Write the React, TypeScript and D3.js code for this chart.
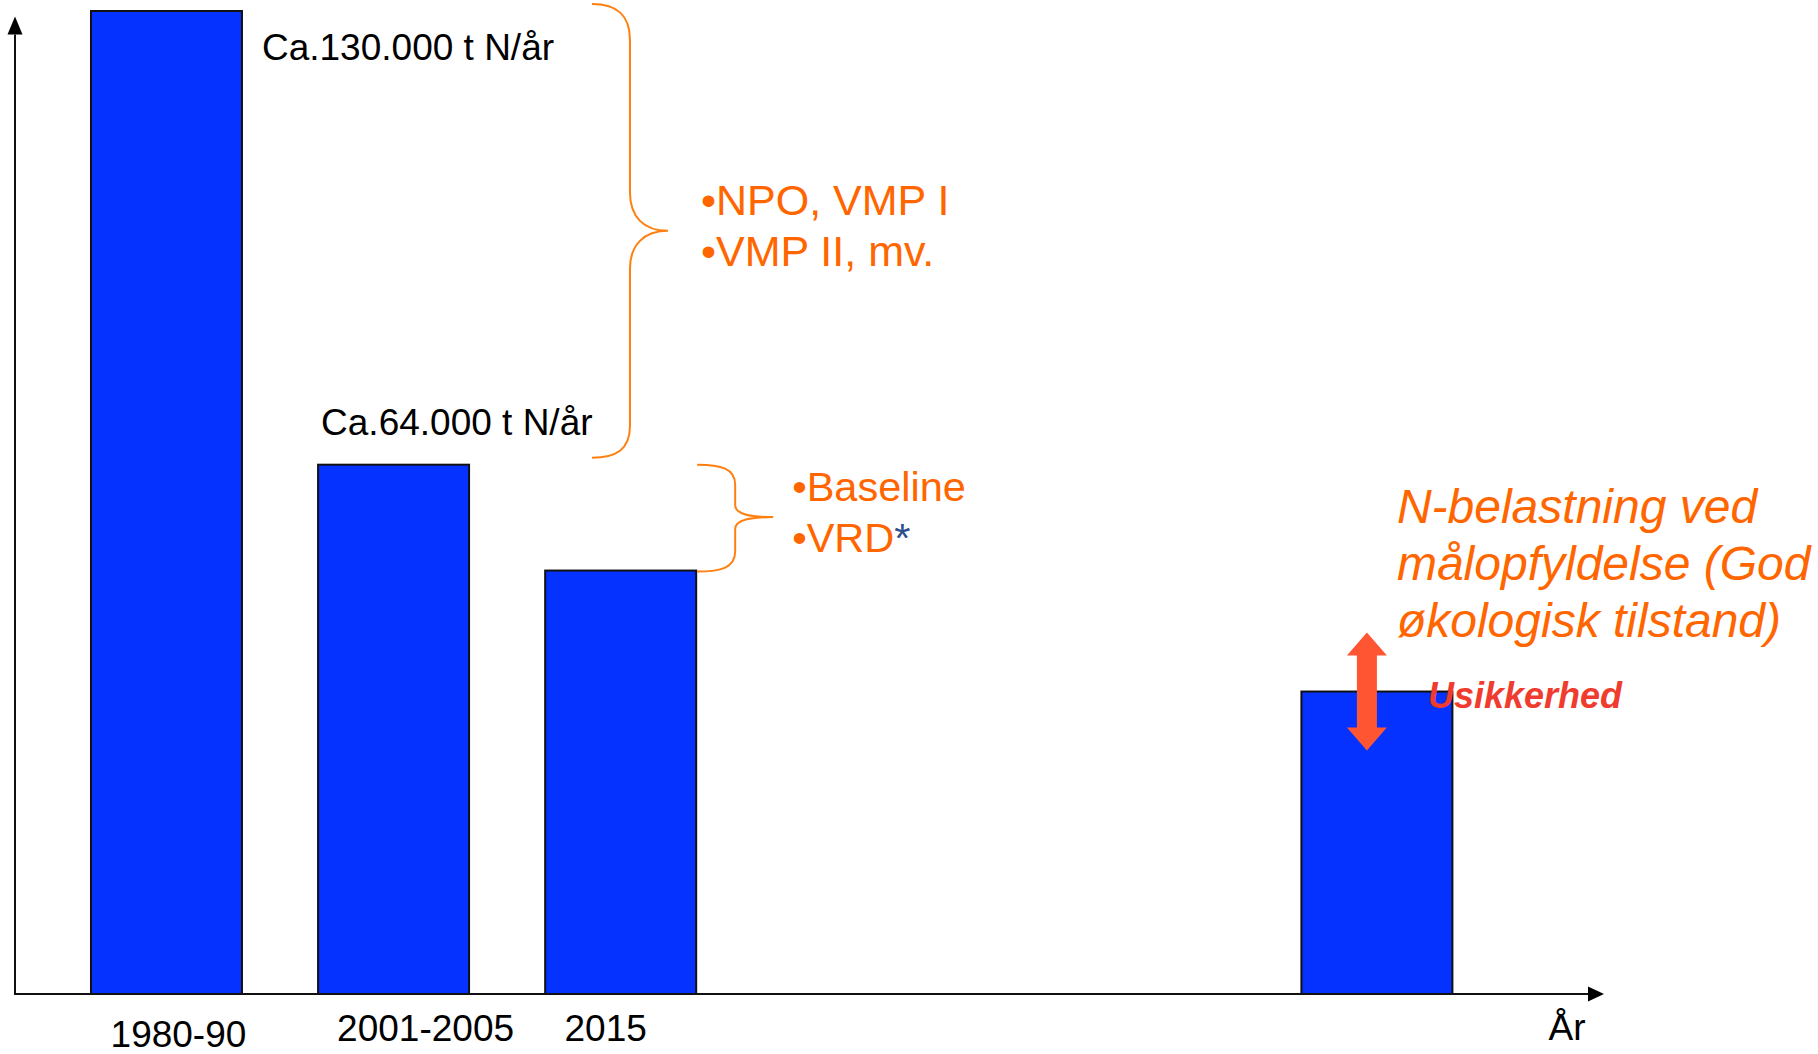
import React from 'react';
import * as d3 from 'd3';

// data (relative N-load, bar 1 = 130 thousand t N/år)
const categories = ['1980-90', '2001-2005', '2015', ''];
const slots = [0, 1, 2, 5.33]; // bar position along the year axis (not evenly spaced)
const values = [130, 70, 56, 40];
const valueLabels = ['Ca.130.000 t N/år', 'Ca.64.000 t N/år', null, null];
const bigBraceItems = ['NPO, VMP I', 'VMP II, mv.'];
const smallBraceItems = ['Baseline', 'VRD'];
const goalLines = ['N-belastning ved', 'målopfyldelse (God', 'økologisk tilstand)'];
const axisTitle = 'År';
const uncertaintyLabel = 'Usikkerhed';

const W = 1818, H = 1054;
const FONT = '"Liberation Sans", Arial, Helvetica, sans-serif';
const BLUE = '#0532FF';
const ORANGE = '#FF6600';
const BRACE = '#FF8010';

export default function App() {
  // scales
  const x = d3.scaleLinear().domain([-0.667, 6.33]).range([15, 1604]);
  const y = d3.scaleLinear().domain([0, 130]).range([994, 11]);
  const barW = 151;

  const x0 = x(-0.667), xEnd = x(6.33), y0 = y(0);

  // label nudges (tick labels were placed by hand in the original)
  const tickNudge = [{ dx: 12, dy: 53 }, { dx: 32, dy: 47 }, { dx: -15, dy: 47 }, { dx: 0, dy: 47 }];

  // big brace: from top of bar 1 to top of bar 2
  const bTop = y(130) - 7, bBot = y(70) - 7, bMid = (bTop + bBot) / 2;
  const bx = x(0) + barW / 2 + 350, bv = bx + 38, bp = bx + 76;
  const bigBrace = `M${bx},${bTop} C${bx + 24},${bTop} ${bv},${bTop + 10} ${bv},${bTop + 36}
    L${bv},${bMid - 38} C${bv},${bMid - 14} ${bv + 14},${bMid} ${bp},${bMid}
    C${bv + 14},${bMid} ${bv},${bMid + 14} ${bv},${bMid + 38}
    L${bv},${bBot - 32} C${bv},${bBot - 8} ${bx + 24},${bBot} ${bx},${bBot}`;

  // small brace: from top of bar 2 to top of bar 3
  const sTop = y(70), sBot = y(56) + 1, sMid = (sTop + sBot) / 2 - 1;
  const sx = x(2) + barW / 2 + 1, sv = sx + 38, sp = sx + 76;
  const smallBrace = `M${sx},${sTop} C${sx + 24},${sTop} ${sv},${sTop + 4} ${sv},${sTop + 20}
    L${sv},${sMid - 12} C${sv},${sMid - 3} ${sv + 14},${sMid} ${sp},${sMid}
    C${sv + 14},${sMid} ${sv},${sMid + 3} ${sv},${sMid + 12}
    L${sv},${sBot - 20} C${sv},${sBot - 4} ${sx + 24},${sBot} ${sx},${sBot}`;

  // double arrow around the goal bar
  const ax = x(slots[3]) - 10, ay = y(values[3]);
  const half = 59, head = 23, hw = 20, sw = 10;
  const dblArrow = `M${ax},${ay - half} L${ax + hw},${ay - half + head} L${ax + sw},${ay - half + head}
    L${ax + sw},${ay + half - head} L${ax + hw},${ay + half - head} L${ax},${ay + half}
    L${ax - hw},${ay + half - head} L${ax - sw},${ay + half - head} L${ax - sw},${ay - half + head}
    L${ax - hw},${ay - half + head} Z`;

  return (
    <svg width={W} height={H} style={{ position: 'absolute', left: 0, top: 0, background: '#fff' }}
      fontFamily={FONT}>
      {/* bars */}
      {values.map((v, i) => (
        <rect key={i} x={x(slots[i]) - barW / 2} y={y(v)} width={barW} height={y0 - y(v)}
          fill={BLUE} stroke="#111" strokeWidth={2} />
      ))}

      {/* axes */}
      <line x1={x0} y1={y0} x2={x0} y2={y(129) + 16} stroke="#111" strokeWidth={2} />
      <path d={`M${x0},${y(129) - 2} L${x0 + 7.5},${y(129) + 16} L${x0 - 7.5},${y(129) + 16} Z`} fill="#000" />
      <line x1={x0 - 1} y1={y0} x2={xEnd - 16} y2={y0} stroke="#111" strokeWidth={2} />
      <path d={`M${xEnd},${y0} L${xEnd - 16},${y0 - 7.5} L${xEnd - 16},${y0 + 7.5} Z`} fill="#000" />

      {/* tick labels */}
      {categories.map((c, i) => (
        <text key={c + i} x={x(slots[i]) + tickNudge[i].dx} y={y0 + tickNudge[i].dy}
          textAnchor="middle" fontSize={37} fill="#000">{c}</text>
      ))}
      <text x={xEnd - 37} y={y0 + 46} textAnchor="middle" fontSize={37} fill="#000">{axisTitle}</text>

      {/* value labels */}
      {valueLabels[0] && (
        <text x={x(0) + barW / 2 + 20} y={y(values[0]) + 49} fontSize={37} fill="#000">{valueLabels[0]}</text>
      )}
      {valueLabels[1] && (
        <text x={x(1) - barW / 2 + 3} y={y(values[1]) - 30} fontSize={37} fill="#000">{valueLabels[1]}</text>
      )}

      {/* braces */}
      <path d={bigBrace} fill="none" stroke={BRACE} strokeWidth={2} />
      <path d={smallBrace} fill="none" stroke={BRACE} strokeWidth={2} />

      {bigBraceItems.map((t, i) => (
        <text key={t} x={bp + 33} y={bMid - 16 + i * 51} fontSize={43} fill={ORANGE}>{'•' + t}</text>
      ))}
      {smallBraceItems.map((t, i) => (
        <text key={t} x={sp + 19} y={sMid - 16 + i * 51} fontSize={41.5} fill={ORANGE}>
          {'•' + t}
          {i === smallBraceItems.length - 1 && <tspan fill="#2B4F8A">*</tspan>}
        </text>
      ))}

      {/* goal annotation */}
      {goalLines.map((t, i) => (
        <text key={t} x={x(slots[3]) + 20} y={y(values[3]) - 169 + i * 57} fontSize={48}
          fontStyle="italic" fill={ORANGE}>{t}</text>
      ))}
      <path d={dblArrow} fill="#FF5533" />
      <text x={x(slots[3]) + 51} y={y(values[3]) + 16} fontSize={36} fontStyle="italic" fontWeight="bold"
        fill="#F03C2E">{uncertaintyLabel}</text>
    </svg>
  );
}
